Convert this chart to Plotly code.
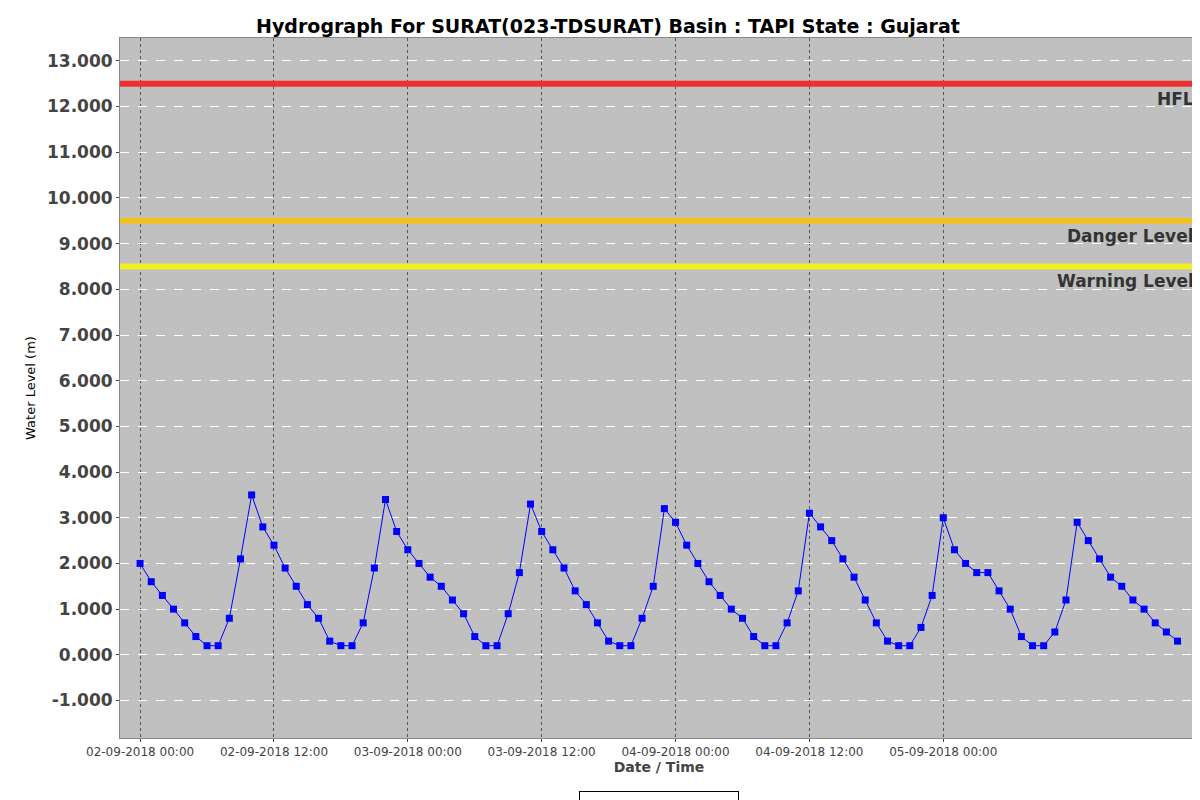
import plotly.graph_objects as go
from datetime import datetime, timedelta

start = datetime(2018, 9, 2, 0, 0)
levels = [2.0,1.6,1.3,1.0,0.7,0.4,0.2,0.2,0.8,2.1,3.5,2.8,2.4,1.9,1.5,1.1,0.8,0.3,0.2,0.2,0.7,1.9,3.4,2.7,
          2.3,2.0,1.7,1.5,1.2,0.9,0.4,0.2,0.2,0.9,1.8,3.3,2.7,2.3,1.9,1.4,1.1,0.7,0.3,0.2,0.2,0.8,1.5,3.2,
          2.9,2.4,2.0,1.6,1.3,1.0,0.8,0.4,0.2,0.2,0.7,1.4,3.1,2.8,2.5,2.1,1.7,1.2,0.7,0.3,0.2,0.2,0.6,1.3,
          3.0,2.3,2.0,1.8,1.8,1.4,1.0,0.4,0.2,0.2,0.5,1.2,2.9,2.5,2.1,1.7,1.5,1.2,1.0,0.7,0.5,0.3]
times = [start + timedelta(hours=i) for i in range(len(levels))]

hfl, danger, warning = 12.5, 9.5, 8.5
tick_times = [start + timedelta(hours=12*i) for i in range(7)]
tick_text = [t.strftime("%d-%m-%Y %H:%M") for t in tick_times]
y_ticks = list(range(-1, 14))

xmin = start - timedelta(minutes=108)
xmax = start + timedelta(hours=94, minutes=50)

fig = go.Figure()
fig.add_trace(go.Scatter(x=times, y=levels, mode="lines+markers", name="Actual Water Level",
                         line=dict(color="#0000ff", width=1),
                         marker=dict(symbol="square", size=7, color="#0000ff")))

for val, col, label in [(hfl, "#f03030", "HFL"), (danger, "#f0c020", "Danger Level"), (warning, "#f0f020", "Warning Level")]:
    fig.add_shape(type="line", xref="paper", x0=0, x1=1, y0=val, y1=val, line=dict(color=col, width=6))
    fig.add_annotation(xref="paper", x=0.998, y=val, yanchor="top", xanchor="right", yshift=-3,
                       text="<b>%s</b>" % label, showarrow=False,
                       font=dict(family="DejaVu Sans", size=17, color="#333333"))

fig.update_layout(
    width=1200, height=800,
    title=dict(text="<b>Hydrograph For SURAT(023-TDSURAT) Basin : TAPI State : Gujarat</b>",
               x=0.5, xanchor="center", y=0.985, font=dict(family="DejaVu Sans", size=19, color="black")),
    paper_bgcolor="white", plot_bgcolor="#c0c0c0",
    margin=dict(l=112, r=10, t=30, b=70, autoexpand=False),
    showlegend=True,
    legend=dict(orientation="h", x=0.5, xanchor="center", y=-0.075, yanchor="top",
                bordercolor="black", borderwidth=1, font=dict(family="DejaVu Sans", size=12)),
    font=dict(family="DejaVu Sans"),
)
fig.update_xaxes(range=[xmin, xmax], tickvals=tick_times, ticktext=tick_text, automargin=False,
                 showgrid=True, gridcolor="#555555", griddash="dot", gridwidth=1,
                 tickfont=dict(size=12, color="#444444"), ticks="outside", ticklen=3,
                 showline=True, linecolor="#888888", mirror=True,
                 title=dict(text="<b>Date / Time</b>", font=dict(size=14, color="#444444"), standoff=2))
fig.update_yaxes(range=[-1.82, 13.5], tickvals=y_ticks, ticktext=["<b>%.3f</b>" % v for v in y_ticks],
                 automargin=False,
                 showgrid=True, gridcolor="white", griddash="dash", gridwidth=1, zeroline=False,
                 tickfont=dict(size=17, color="#444444"), ticks="outside", ticklen=3,
                 showline=True, linecolor="#888888", mirror=True,
                 title=dict(text="Water Level (m)", font=dict(size=13, color="black"), standoff=8))
fig.write_html("out.html")
